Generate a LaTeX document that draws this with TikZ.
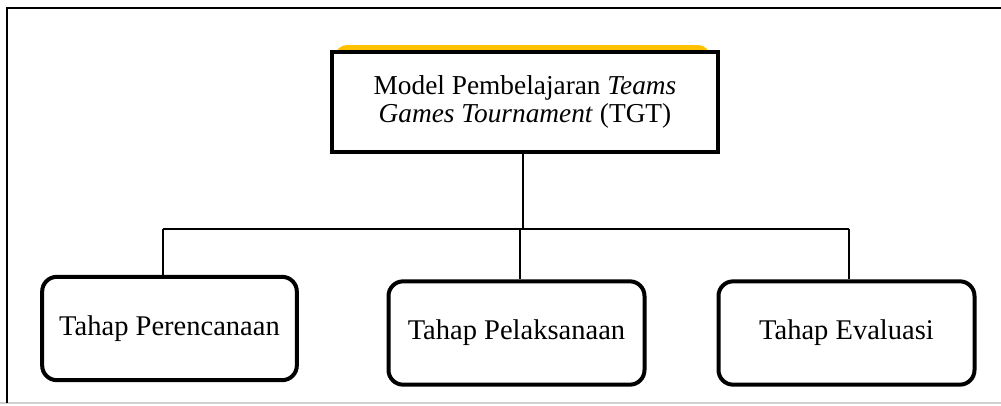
\documentclass[tikz,border=0pt]{standalone}
\usepackage{fontspec}
\setmainfont{Liberation Serif}
\definecolor{shadowyellow}{HTML}{FFC000}
\definecolor{framegray}{HTML}{D0D0D0}
\tikzset{
  topbox/.style={draw=black, line width=3pt, fill=white, minimum width=289.5pt, minimum height=75pt,
    align=center, inner sep=0pt, font=\fontsize{20.5}{21.5}\selectfont},
  stagebox/.style={draw=black, line width=3pt, fill=white, rounded corners=11pt, minimum width=192pt,
    minimum height=77.5pt, inner sep=0pt, font=\fontsize{21.4}{24}\selectfont},
  conn/.style={draw=black, line width=1.1pt},
}
\begin{document}
\begin{tikzpicture}[x=0.75pt, y=-0.75pt]
\useasboundingbox (0,0) rectangle (1001,405);
% outer frame
\draw[framegray, line width=0.8pt] (0,403) -- (1001,403);
\draw[black, line width=1.6pt] (7,403) -- (7,8) -- (1001,8);
% yellow shadow
\fill[shadowyellow, rounded corners=9pt] (335,45) rectangle (710,145);
% top node
\node[topbox] (top) at (525,102) {Model Pembelajaran \textit{Teams}\\\textit{Games Tournament} (TGT)};
% stage nodes
\node[stagebox, minimum width=191pt] (b1) at (169.5,328.5) {Tahap Perencanaan};
\node[stagebox] (b2) at (516.5,333) {Tahap Pelaksanaan};
\node[stagebox] (b3) at (846.5,333) {Tahap Evaluasi};
% bus coordinates
\coordinate (d1) at (163,229);
\coordinate (d2) at (520,229);
\coordinate (d3) at (849,229);
\coordinate (dt) at (523,229);
% connectors
\draw[conn] (top.south -| dt) -- (dt);
\draw[conn] (d1) -- (d3);
\draw[conn] (d1) -- (d1 |- b1.north);
\draw[conn] (d2) -- (d2 |- b2.north);
\draw[conn] (d3) -- (d3 |- b3.north);
\end{tikzpicture}
\end{document}
